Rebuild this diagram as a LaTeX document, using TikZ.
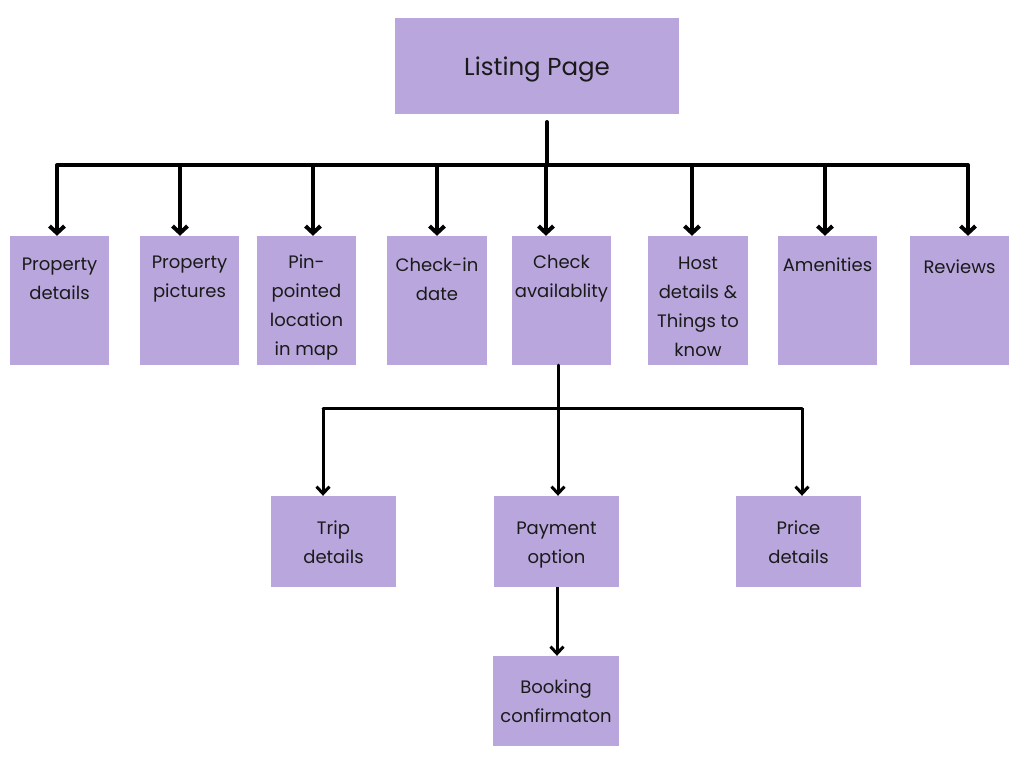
\documentclass[tikz,border=0pt]{standalone}
\usepackage{fontspec}
\setmainfont{Poppins}
\usetikzlibrary{arrows.meta}
\definecolor{boxfill}{HTML}{B8A6DC}
\definecolor{ink}{HTML}{1A1A1A}
\newcommand\boxtxt[4]{\parbox[c][#2][t]{#1}{\centering\fontsize{18}{29}\selectfont\rule{0pt}{#3}#4}}
\tikzset{
  card/.style={fill=boxfill, draw=none, inner sep=0pt, text=ink},
  bus/.style={line width=4pt, line cap=round, line join=round},
  feed/.style={line width=4pt, -{Straight Barb[length=7pt,width=15pt,line width=4pt]}},
  busb/.style={line width=3pt, line cap=round, line join=round},
  feedb/.style={line width=3pt, -{Straight Barb[length=7pt,width=13pt,line width=3pt]}},
}
\begin{document}
\begin{tikzpicture}[x=1pt,y=-1pt]
\useasboundingbox (0,0) rectangle (1024,768);
\fill[white] (0,0) rectangle (1024,768);

% top node
\node[card, minimum width=284pt, minimum height=96pt, text depth=0pt, font=\fontsize{24.5}{28}\selectfont] (lp) at (537,66) {Listing Page};

% first row
\node[card] (pd) at (59.5,300.5) {\boxtxt{99pt}{129pt}{34pt}{Property\\details}};
\node[card] (pp) at (189.5,300.5) {\boxtxt{99pt}{129pt}{32pt}{Property\\pictures}};
\node[card] (pin) at (306.5,300.5) {\boxtxt{99pt}{129pt}{32pt}{Pin-\\pointed\\location\\in map}};
\node[card] (ci) at (437,300.5) {\boxtxt{100pt}{129pt}{35pt}{Check-in\\date}};
\node[card] (ca) at (561.5,300.5) {\boxtxt{99pt}{129pt}{32pt}{Check\\availablity}};
\node[card] (hd) at (698,300.5) {\boxtxt{100pt}{129pt}{33pt}{Host\\details \&\\Things to\\know}};
\node[card] (am) at (827.5,300.5) {\boxtxt{99pt}{129pt}{35pt}{Amenities}};
\node[card] (rv) at (959.5,300.5) {\boxtxt{99pt}{129pt}{37pt}{Reviews}};

% second row
\node[card] (td) at (333.5,541.5) {\boxtxt{125pt}{91pt}{38pt}{Trip\\details}};
\node[card] (po) at (556.5,541.5) {\boxtxt{125pt}{91pt}{38pt}{Payment\\option}};
\node[card] (pr) at (798.5,541.5) {\boxtxt{125pt}{91pt}{38pt}{Price\\details}};

% third row
\node[card] (bc) at (556,701) {\boxtxt{126pt}{90pt}{37pt}{Booking\\confirmaton}};

% top bus
\coordinate (s1) at (547,122);
\coordinate (s2) at (547,163);
\draw[bus] (s1) -- (s2);
\coordinate (t1) at (57,165);
\coordinate (t2) at (180,165);
\coordinate (t3) at (313,165);
\coordinate (t4) at (437,165);
\coordinate (t5) at (546,165);
\coordinate (t6) at (692,165);
\coordinate (t7) at (825,165);
\coordinate (t8) at (968,165);
\draw[bus] (t1) -- (t8);
\draw[feed] (t1) -- (t1 |- pd.north);
\draw[feed] (t2) -- (t2 |- pp.north);
\draw[feed] (t3) -- (t3 |- pin.north);
\draw[feed] (t4) -- (t4 |- ci.north);
\draw[feed] (t5) -- (t5 |- ca.north);
\draw[feed] (t6) -- (t6 |- hd.north);
\draw[feed] (t7) -- (t7 |- am.north);
\draw[feed] (t8) -- (t8 |- rv.north);

% lower bus
\coordinate (u0) at (558,365);
\coordinate (u1) at (323,408);
\coordinate (u2) at (558,408);
\coordinate (u3) at (802,408);
\draw[busb] (u0) -- (u2);
\draw[busb] (u1) -- (u3);
\draw[feedb] (u1) -- (u1 |- td.north);
\draw[feedb] (u2) -- (u2 |- po.north);
\draw[feedb] (u3) -- (u3 |- pr.north);

% payment to booking
\coordinate (v0) at (557,587);
\draw[feedb] (v0) -- (v0 |- bc.north);
\end{tikzpicture}
\end{document}
